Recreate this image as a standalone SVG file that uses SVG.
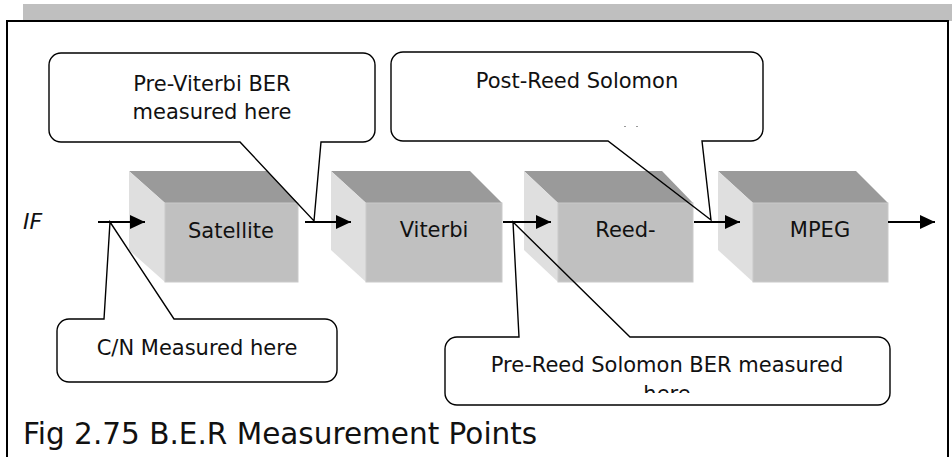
<svg xmlns="http://www.w3.org/2000/svg" width="952" height="457" viewBox="0 0 952 457">
<style>
.t{font-family:"DejaVu Sans","Verdana",sans-serif;font-size:21px;fill:#111;text-anchor:middle}
.top{fill:#9a9a9a}
.side{fill:#dfdfdf}
.front{fill:#c0c0c0;stroke:#cacaca;stroke-width:1}
.co{fill:none;stroke:#000;stroke-width:1.4;stroke-linejoin:miter}
.cf{fill:#fff}
.ar{stroke:#000;stroke-width:2;fill:none;marker-end:url(#ah)}
</style>
<defs>
<marker id="ah" markerWidth="15" markerHeight="14" refX="15" refY="7" orient="auto" markerUnits="userSpaceOnUse">
<path d="M0,0 L15,7 L0,14 Z" fill="#000"/>
</marker>
<clipPath id="clipPR"><rect x="445" y="337" width="445" height="56"/></clipPath>
</defs>
<rect x="0" y="0" width="952" height="457" fill="#fff"/>
<rect x="23" y="4" width="929" height="17" fill="#bfbfbf"/>
<rect x="7" y="21" width="941" height="450" fill="#fff" stroke="#000" stroke-width="2"/>

<g id="satellite">
<polygon class="top" points="129,171 267,171 298,203 165,203"/>
<polygon class="side" points="129,171 165,203 165,282 129,250"/>
<rect class="front" x="165" y="203" width="133" height="79"/>
<text class="t" x="231" y="238">Satellite</text>
</g>
<g id="viterbi">
<polygon class="top" points="331,171 470,171 502,203 366,203"/>
<polygon class="side" points="331,171 366,203 366,282 331,250"/>
<rect class="front" x="366" y="203" width="136" height="79"/>
<text class="t" x="434" y="237">Viterbi</text>
</g>
<g id="reed">
<polygon class="top" points="524,171 662,171 693,203 558,203"/>
<polygon class="side" points="524,171 558,203 558,282 524,250"/>
<rect class="front" x="558" y="203" width="135" height="79"/>
<text class="t" x="625.5" y="237">Reed-</text>
</g>
<g id="mpeg">
<polygon class="top" points="718,171 856,171 888,203 753,203"/>
<polygon class="side" points="718,171 753,203 753,282 718,250"/>
<rect class="front" x="753" y="203" width="135" height="79"/>
<text class="t" x="820" y="237">MPEG</text>
</g>

<g id="connectors">
<line class="ar" x1="98" y1="222" x2="145" y2="222"/>
<line class="ar" x1="305" y1="222" x2="351" y2="222"/>
<line class="ar" x1="503" y1="222" x2="551" y2="222"/>
<line class="ar" x1="694" y1="222" x2="740" y2="222"/>
<line class="ar" x1="888" y1="222" x2="935" y2="222"/>
</g>

<text id="if-label" x="23" y="229" font-family="DejaVu Sans, Verdana, sans-serif" font-size="22" font-style="italic" fill="#111">IF</text>

<g id="callout-previterbi">
<rect class="cf" x="49" y="53" width="326" height="89" rx="12"/>
<path class="co" d="M61,53 H363 A12,12 0 0 1 375,65 V130 A12,12 0 0 1 363,142 H321 L314,221 L240,142 H61 A12,12 0 0 1 49,130 V65 A12,12 0 0 1 61,53 Z"/>
<text class="t" x="212" y="91">Pre-Viterbi BER</text>
<text class="t" x="212" y="119">measured here</text>
</g>

<g id="callout-postrs">
<rect class="cf" x="391" y="52" width="372" height="89" rx="12"/>
<path class="co" d="M403,52 H751 A12,12 0 0 1 763,64 V129 A12,12 0 0 1 751,141 H702 L711,220 L608,141 H403 A12,12 0 0 1 391,129 V64 A12,12 0 0 1 403,52 Z"/>
<text class="t" x="577" y="88">Post-Reed Solomon</text>
<rect x="624" y="126" width="2" height="1" fill="#999"/>
<rect x="636" y="126" width="2" height="1" fill="#999"/>
</g>

<g id="callout-cn">
<rect class="cf" x="57" y="319" width="280" height="63" rx="12"/>
<path class="co" d="M69,319 H104 L110,222 L174,319 H325 A12,12 0 0 1 337,331 V370 A12,12 0 0 1 325,382 H69 A12,12 0 0 1 57,370 V331 A12,12 0 0 1 69,319 Z"/>
<text class="t" x="197" y="355">C/N Measured here</text>
</g>

<g id="callout-prers">
<rect class="cf" x="445" y="337" width="445" height="68" rx="12"/>
<path class="co" d="M457,337 H519 L513,222 L630,337 H878 A12,12 0 0 1 890,349 V393 A12,12 0 0 1 878,405 H457 A12,12 0 0 1 445,393 V349 A12,12 0 0 1 457,337 Z"/>
<text class="t" x="667" y="372">Pre-Reed Solomon BER measured</text>
<text class="t" x="667" y="401" clip-path="url(#clipPR)">here</text>
</g>

<text id="caption" x="23" y="444" font-family="DejaVu Sans, Verdana, sans-serif" font-size="29.5" fill="#111">Fig 2.75 B.E.R Measurement Points</text>
</svg>
